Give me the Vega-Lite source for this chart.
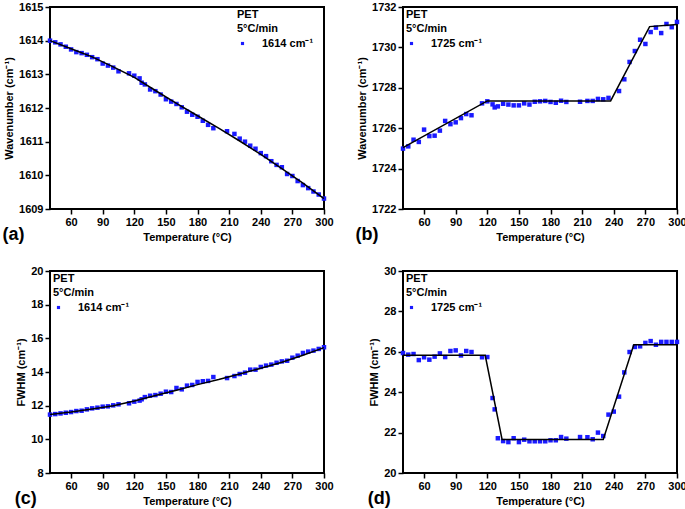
{
  "$schema": "https://vega.github.io/schema/vega-lite/v6.json",
  "padding": {"left": 1, "top": 0, "right": 0, "bottom": 0},
  "background": "white",
  "config": {
    "font": "Liberation Sans",
    "view": {"stroke": "black", "strokeWidth": 2},
    "axis": {
      "domain": false, "grid": false, "labelOverlap": false, "labelFlush": false, "labelBound": false,
      "tickColor": "black", "tickSize": 5, "tickWidth": 1.5,
      "labelFont": "Liberation Sans", "labelFontSize": 11, "labelFontWeight": "bold", "labelColor": "black", "labelPadding": 2,
      "titleFont": "Liberation Sans", "titleFontSize": 11, "titleFontWeight": "bold", "titleColor": "black"
    },
    "axisX": {"titlePadding": 4},
    "axisY": {"titlePadding": 4},
    "legend": {
      "orient": "none",
      "titleFont": "Liberation Sans", "titleFontSize": 11, "titleFontWeight": "bold", "titleColor": "black", "titleLineHeight": 14, "titlePadding": 4,
      "labelFont": "Liberation Sans", "labelFontSize": 11, "labelFontWeight": "bold", "labelColor": "black", "labelOffset": 14,
      "symbolType": "square", "symbolSize": 10, "symbolStrokeWidth": 0, "padding": 0, "rowPadding": 0
    },
    "title": {"font": "Liberation Sans", "fontSize": 18, "fontWeight": "bold", "color": "black"}
  },
  "resolve": {"scale": {"color": "independent", "x": "independent", "y": "independent"}, "legend": {"color": "independent"}},
  "datasets": {
    "ptsA": [
      {"T": 40, "v": 1614.0, "series": "1614 cm⁻¹"}, {"T": 45, "v": 1613.95, "series": "1614 cm⁻¹"}, {"T": 50, "v": 1613.89, "series": "1614 cm⁻¹"},
      {"T": 55, "v": 1613.82, "series": "1614 cm⁻¹"}, {"T": 60, "v": 1613.74, "series": "1614 cm⁻¹"}, {"T": 65, "v": 1613.66, "series": "1614 cm⁻¹"},
      {"T": 70, "v": 1613.63, "series": "1614 cm⁻¹"}, {"T": 75, "v": 1613.58, "series": "1614 cm⁻¹"}, {"T": 80, "v": 1613.51, "series": "1614 cm⁻¹"},
      {"T": 85, "v": 1613.45, "series": "1614 cm⁻¹"}, {"T": 90, "v": 1613.32, "series": "1614 cm⁻¹"}, {"T": 95, "v": 1613.26, "series": "1614 cm⁻¹"},
      {"T": 100, "v": 1613.2, "series": "1614 cm⁻¹"}, {"T": 105, "v": 1613.09, "series": "1614 cm⁻¹"}, {"T": 115, "v": 1613.03, "series": "1614 cm⁻¹"},
      {"T": 120, "v": 1612.96, "series": "1614 cm⁻¹"}, {"T": 125, "v": 1612.88, "series": "1614 cm⁻¹"}, {"T": 127, "v": 1612.75, "series": "1614 cm⁻¹"},
      {"T": 130, "v": 1612.7, "series": "1614 cm⁻¹"}, {"T": 135, "v": 1612.55, "series": "1614 cm⁻¹"}, {"T": 140, "v": 1612.5, "series": "1614 cm⁻¹"},
      {"T": 145, "v": 1612.4, "series": "1614 cm⁻¹"}, {"T": 150, "v": 1612.26, "series": "1614 cm⁻¹"}, {"T": 155, "v": 1612.19, "series": "1614 cm⁻¹"},
      {"T": 160, "v": 1612.12, "series": "1614 cm⁻¹"}, {"T": 165, "v": 1612.02, "series": "1614 cm⁻¹"}, {"T": 170, "v": 1611.89, "series": "1614 cm⁻¹"},
      {"T": 175, "v": 1611.8, "series": "1614 cm⁻¹"}, {"T": 180, "v": 1611.74, "series": "1614 cm⁻¹"}, {"T": 185, "v": 1611.62, "series": "1614 cm⁻¹"},
      {"T": 190, "v": 1611.5, "series": "1614 cm⁻¹"}, {"T": 195, "v": 1611.4, "series": "1614 cm⁻¹"}, {"T": 208, "v": 1611.31, "series": "1614 cm⁻¹"},
      {"T": 215, "v": 1611.23, "series": "1614 cm⁻¹"}, {"T": 220, "v": 1611.09, "series": "1614 cm⁻¹"}, {"T": 225, "v": 1611.0, "series": "1614 cm⁻¹"},
      {"T": 230, "v": 1610.88, "series": "1614 cm⁻¹"}, {"T": 235, "v": 1610.79, "series": "1614 cm⁻¹"}, {"T": 240, "v": 1610.66, "series": "1614 cm⁻¹"},
      {"T": 245, "v": 1610.57, "series": "1614 cm⁻¹"}, {"T": 250, "v": 1610.42, "series": "1614 cm⁻¹"}, {"T": 255, "v": 1610.31, "series": "1614 cm⁻¹"},
      {"T": 260, "v": 1610.24, "series": "1614 cm⁻¹"}, {"T": 265, "v": 1610.04, "series": "1614 cm⁻¹"}, {"T": 270, "v": 1609.98, "series": "1614 cm⁻¹"},
      {"T": 275, "v": 1609.83, "series": "1614 cm⁻¹"}, {"T": 280, "v": 1609.71, "series": "1614 cm⁻¹"}, {"T": 285, "v": 1609.62, "series": "1614 cm⁻¹"},
      {"T": 290, "v": 1609.52, "series": "1614 cm⁻¹"}, {"T": 295, "v": 1609.43, "series": "1614 cm⁻¹"}, {"T": 300, "v": 1609.31, "series": "1614 cm⁻¹"}
    ],
    "fitA": [
      {"T": 40, "v": 1614.0}, {"T": 60, "v": 1613.76}, {"T": 80, "v": 1613.52}, {"T": 100, "v": 1613.22}, {"T": 120, "v": 1612.91},
      {"T": 140, "v": 1612.52}, {"T": 160, "v": 1612.14}, {"T": 180, "v": 1611.77}, {"T": 200, "v": 1611.4}, {"T": 220, "v": 1611.02},
      {"T": 240, "v": 1610.62}, {"T": 260, "v": 1610.2}, {"T": 280, "v": 1609.77}, {"T": 300, "v": 1609.31}
    ],
    "ptsB": [
      {"T": 40, "v": 1724.99, "series": "1725 cm⁻¹"}, {"T": 45, "v": 1725.1, "series": "1725 cm⁻¹"}, {"T": 50, "v": 1725.43, "series": "1725 cm⁻¹"},
      {"T": 55, "v": 1725.32, "series": "1725 cm⁻¹"}, {"T": 60, "v": 1725.93, "series": "1725 cm⁻¹"}, {"T": 65, "v": 1725.61, "series": "1725 cm⁻¹"},
      {"T": 70, "v": 1725.63, "series": "1725 cm⁻¹"}, {"T": 75, "v": 1725.88, "series": "1725 cm⁻¹"}, {"T": 80, "v": 1726.36, "series": "1725 cm⁻¹"},
      {"T": 85, "v": 1726.2, "series": "1725 cm⁻¹"}, {"T": 90, "v": 1726.29, "series": "1725 cm⁻¹"}, {"T": 95, "v": 1726.5, "series": "1725 cm⁻¹"},
      {"T": 100, "v": 1726.7, "series": "1725 cm⁻¹"}, {"T": 105, "v": 1726.64, "series": "1725 cm⁻¹"}, {"T": 115, "v": 1727.23, "series": "1725 cm⁻¹"},
      {"T": 120, "v": 1727.33, "series": "1725 cm⁻¹"}, {"T": 125, "v": 1727.18, "series": "1725 cm⁻¹"}, {"T": 127, "v": 1727.03, "series": "1725 cm⁻¹"},
      {"T": 130, "v": 1727.08, "series": "1725 cm⁻¹"}, {"T": 135, "v": 1727.21, "series": "1725 cm⁻¹"}, {"T": 140, "v": 1727.17, "series": "1725 cm⁻¹"},
      {"T": 145, "v": 1727.13, "series": "1725 cm⁻¹"}, {"T": 150, "v": 1727.13, "series": "1725 cm⁻¹"}, {"T": 155, "v": 1727.23, "series": "1725 cm⁻¹"},
      {"T": 160, "v": 1727.17, "series": "1725 cm⁻¹"}, {"T": 165, "v": 1727.31, "series": "1725 cm⁻¹"}, {"T": 170, "v": 1727.33, "series": "1725 cm⁻¹"},
      {"T": 175, "v": 1727.35, "series": "1725 cm⁻¹"}, {"T": 180, "v": 1727.3, "series": "1725 cm⁻¹"}, {"T": 185, "v": 1727.26, "series": "1725 cm⁻¹"},
      {"T": 190, "v": 1727.36, "series": "1725 cm⁻¹"}, {"T": 195, "v": 1727.3, "series": "1725 cm⁻¹"}, {"T": 208, "v": 1727.31, "series": "1725 cm⁻¹"},
      {"T": 215, "v": 1727.35, "series": "1725 cm⁻¹"}, {"T": 220, "v": 1727.35, "series": "1725 cm⁻¹"}, {"T": 225, "v": 1727.45, "series": "1725 cm⁻¹"},
      {"T": 230, "v": 1727.43, "series": "1725 cm⁻¹"}, {"T": 235, "v": 1727.5, "series": "1725 cm⁻¹"}, {"T": 245, "v": 1727.84, "series": "1725 cm⁻¹"},
      {"T": 250, "v": 1728.42, "series": "1725 cm⁻¹"}, {"T": 255, "v": 1729.28, "series": "1725 cm⁻¹"}, {"T": 260, "v": 1729.82, "series": "1725 cm⁻¹"},
      {"T": 265, "v": 1730.38, "series": "1725 cm⁻¹"}, {"T": 270, "v": 1730.17, "series": "1725 cm⁻¹"}, {"T": 275, "v": 1730.76, "series": "1725 cm⁻¹"},
      {"T": 280, "v": 1730.98, "series": "1725 cm⁻¹"}, {"T": 285, "v": 1730.71, "series": "1725 cm⁻¹"}, {"T": 290, "v": 1731.16, "series": "1725 cm⁻¹"},
      {"T": 295, "v": 1731.0, "series": "1725 cm⁻¹"}, {"T": 300, "v": 1731.26, "series": "1725 cm⁻¹"}
    ],
    "fitB": [
      {"T": 40, "v": 1725.04}, {"T": 120, "v": 1727.35}, {"T": 237, "v": 1727.35}, {"T": 274, "v": 1731.03}, {"T": 300, "v": 1731.13}
    ],
    "ptsC": [
      {"T": 40, "v": 11.47, "series": "1614 cm⁻¹"}, {"T": 45, "v": 11.5, "series": "1614 cm⁻¹"}, {"T": 50, "v": 11.54, "series": "1614 cm⁻¹"},
      {"T": 55, "v": 11.58, "series": "1614 cm⁻¹"}, {"T": 60, "v": 11.62, "series": "1614 cm⁻¹"}, {"T": 65, "v": 11.68, "series": "1614 cm⁻¹"},
      {"T": 70, "v": 11.7, "series": "1614 cm⁻¹"}, {"T": 75, "v": 11.78, "series": "1614 cm⁻¹"}, {"T": 80, "v": 11.84, "series": "1614 cm⁻¹"},
      {"T": 85, "v": 11.88, "series": "1614 cm⁻¹"}, {"T": 90, "v": 11.94, "series": "1614 cm⁻¹"}, {"T": 95, "v": 11.96, "series": "1614 cm⁻¹"},
      {"T": 100, "v": 12.02, "series": "1614 cm⁻¹"}, {"T": 105, "v": 12.08, "series": "1614 cm⁻¹"}, {"T": 115, "v": 12.14, "series": "1614 cm⁻¹"},
      {"T": 120, "v": 12.24, "series": "1614 cm⁻¹"}, {"T": 125, "v": 12.3, "series": "1614 cm⁻¹"}, {"T": 127, "v": 12.38, "series": "1614 cm⁻¹"},
      {"T": 130, "v": 12.51, "series": "1614 cm⁻¹"}, {"T": 135, "v": 12.59, "series": "1614 cm⁻¹"}, {"T": 140, "v": 12.63, "series": "1614 cm⁻¹"},
      {"T": 145, "v": 12.71, "series": "1614 cm⁻¹"}, {"T": 150, "v": 12.83, "series": "1614 cm⁻¹"}, {"T": 155, "v": 12.81, "series": "1614 cm⁻¹"},
      {"T": 160, "v": 13.05, "series": "1614 cm⁻¹"}, {"T": 165, "v": 12.97, "series": "1614 cm⁻¹"}, {"T": 170, "v": 13.19, "series": "1614 cm⁻¹"},
      {"T": 175, "v": 13.23, "series": "1614 cm⁻¹"}, {"T": 180, "v": 13.41, "series": "1614 cm⁻¹"}, {"T": 185, "v": 13.45, "series": "1614 cm⁻¹"},
      {"T": 190, "v": 13.47, "series": "1614 cm⁻¹"}, {"T": 195, "v": 13.7, "series": "1614 cm⁻¹"}, {"T": 208, "v": 13.64, "series": "1614 cm⁻¹"},
      {"T": 215, "v": 13.76, "series": "1614 cm⁻¹"}, {"T": 220, "v": 13.88, "series": "1614 cm⁻¹"}, {"T": 225, "v": 13.96, "series": "1614 cm⁻¹"},
      {"T": 230, "v": 14.14, "series": "1614 cm⁻¹"}, {"T": 235, "v": 14.14, "series": "1614 cm⁻¹"}, {"T": 240, "v": 14.3, "series": "1614 cm⁻¹"},
      {"T": 245, "v": 14.38, "series": "1614 cm⁻¹"}, {"T": 250, "v": 14.44, "series": "1614 cm⁻¹"}, {"T": 255, "v": 14.55, "series": "1614 cm⁻¹"},
      {"T": 260, "v": 14.63, "series": "1614 cm⁻¹"}, {"T": 265, "v": 14.67, "series": "1614 cm⁻¹"}, {"T": 270, "v": 14.85, "series": "1614 cm⁻¹"},
      {"T": 275, "v": 14.97, "series": "1614 cm⁻¹"}, {"T": 280, "v": 15.13, "series": "1614 cm⁻¹"}, {"T": 285, "v": 15.21, "series": "1614 cm⁻¹"},
      {"T": 290, "v": 15.27, "series": "1614 cm⁻¹"}, {"T": 295, "v": 15.37, "series": "1614 cm⁻¹"}, {"T": 300, "v": 15.47, "series": "1614 cm⁻¹"}
    ],
    "fitC": [
      {"T": 40, "v": 11.47}, {"T": 60, "v": 11.62}, {"T": 80, "v": 11.8}, {"T": 100, "v": 12.0}, {"T": 120, "v": 12.28},
      {"T": 140, "v": 12.6}, {"T": 160, "v": 12.92}, {"T": 180, "v": 13.25}, {"T": 200, "v": 13.55}, {"T": 220, "v": 13.88},
      {"T": 240, "v": 14.22}, {"T": 260, "v": 14.58}, {"T": 280, "v": 15.0}, {"T": 300, "v": 15.45}
    ],
    "ptsD": [
      {"T": 40, "v": 25.94, "series": "1725 cm⁻¹"}, {"T": 45, "v": 25.86, "series": "1725 cm⁻¹"}, {"T": 50, "v": 25.89, "series": "1725 cm⁻¹"},
      {"T": 55, "v": 25.59, "series": "1725 cm⁻¹"}, {"T": 60, "v": 25.73, "series": "1725 cm⁻¹"}, {"T": 65, "v": 25.61, "series": "1725 cm⁻¹"},
      {"T": 70, "v": 25.76, "series": "1725 cm⁻¹"}, {"T": 75, "v": 25.92, "series": "1725 cm⁻¹"}, {"T": 80, "v": 25.74, "series": "1725 cm⁻¹"},
      {"T": 85, "v": 26.04, "series": "1725 cm⁻¹"}, {"T": 90, "v": 26.07, "series": "1725 cm⁻¹"}, {"T": 95, "v": 25.82, "series": "1725 cm⁻¹"},
      {"T": 100, "v": 26.04, "series": "1725 cm⁻¹"}, {"T": 105, "v": 25.99, "series": "1725 cm⁻¹"}, {"T": 115, "v": 25.73, "series": "1725 cm⁻¹"},
      {"T": 120, "v": 25.74, "series": "1725 cm⁻¹"}, {"T": 125, "v": 23.71, "series": "1725 cm⁻¹"}, {"T": 127, "v": 23.15, "series": "1725 cm⁻¹"},
      {"T": 130, "v": 21.72, "series": "1725 cm⁻¹"}, {"T": 135, "v": 21.58, "series": "1725 cm⁻¹"}, {"T": 140, "v": 21.53, "series": "1725 cm⁻¹"},
      {"T": 145, "v": 21.72, "series": "1725 cm⁻¹"}, {"T": 150, "v": 21.53, "series": "1725 cm⁻¹"}, {"T": 155, "v": 21.65, "series": "1725 cm⁻¹"},
      {"T": 160, "v": 21.57, "series": "1725 cm⁻¹"}, {"T": 165, "v": 21.57, "series": "1725 cm⁻¹"}, {"T": 170, "v": 21.57, "series": "1725 cm⁻¹"},
      {"T": 175, "v": 21.57, "series": "1725 cm⁻¹"}, {"T": 180, "v": 21.62, "series": "1725 cm⁻¹"}, {"T": 185, "v": 21.62, "series": "1725 cm⁻¹"},
      {"T": 190, "v": 21.78, "series": "1725 cm⁻¹"}, {"T": 195, "v": 21.7, "series": "1725 cm⁻¹"}, {"T": 208, "v": 21.78, "series": "1725 cm⁻¹"},
      {"T": 215, "v": 21.77, "series": "1725 cm⁻¹"}, {"T": 220, "v": 21.67, "series": "1725 cm⁻¹"}, {"T": 225, "v": 22.0, "series": "1725 cm⁻¹"},
      {"T": 230, "v": 21.83, "series": "1725 cm⁻¹"}, {"T": 235, "v": 22.89, "series": "1725 cm⁻¹"}, {"T": 240, "v": 23.04, "series": "1725 cm⁻¹"},
      {"T": 245, "v": 23.78, "series": "1725 cm⁻¹"}, {"T": 250, "v": 24.98, "series": "1725 cm⁻¹"}, {"T": 255, "v": 25.99, "series": "1725 cm⁻¹"},
      {"T": 260, "v": 26.24, "series": "1725 cm⁻¹"}, {"T": 265, "v": 26.27, "series": "1725 cm⁻¹"}, {"T": 270, "v": 26.44, "series": "1725 cm⁻¹"},
      {"T": 275, "v": 26.53, "series": "1725 cm⁻¹"}, {"T": 280, "v": 26.35, "series": "1725 cm⁻¹"}, {"T": 285, "v": 26.49, "series": "1725 cm⁻¹"},
      {"T": 290, "v": 26.49, "series": "1725 cm⁻¹"}, {"T": 295, "v": 26.49, "series": "1725 cm⁻¹"}, {"T": 300, "v": 26.49, "series": "1725 cm⁻¹"}
    ],
    "fitD": [
      {"T": 40, "v": 25.83}, {"T": 118, "v": 25.83}, {"T": 134, "v": 21.66}, {"T": 230, "v": 21.66}, {"T": 259, "v": 26.35}, {"T": 300, "v": 26.35}
    ]
  },
  "columns": 2,
  "spacing": {"row": 62, "column": 79},
  "bounds": "flush",
  "concat": [
    {
      "width": 274, "height": 202,
      "title": {"text": "(a)", "orient": "bottom", "anchor": "start", "frame": "bounds", "offset": -16, "dx": -1},
      "encoding": {
        "x": {"field": "T", "type": "quantitative", "scale": {"domain": [40, 300], "nice": false, "zero": false}, "axis": {"values": [60, 90, 120, 150, 180, 210, 240, 270, 300], "labelOverlap": false, "format": "d", "title": "Temperature (°C)"}},
        "y": {"field": "v", "type": "quantitative", "scale": {"domain": [1609, 1615], "nice": false, "zero": false}, "axis": {"values": [1609, 1610, 1611, 1612, 1613, 1614, 1615], "labelOverlap": false, "format": "d", "title": "Wavenumber (cm⁻¹)"}}
      },
      "layer": [
        {
          "data": {"name": "ptsA"},
          "mark": {"type": "square", "size": 20, "opacity": 1},
          "encoding": {
            "color": {"field": "series", "type": "nominal", "scale": {"range": ["#1a1aff"]}, "legend": {"title": ["PET", "5°C/min"], "legendX": 187, "legendY": 2}}
          }
        },
        {
          "data": {"name": "fitA"},
          "mark": {"type": "line", "color": "black", "strokeWidth": 1.5},
          "encoding": {}
        }
      ]
    },
    {
      "width": 274, "height": 202,
      "title": {"text": "(b)", "orient": "bottom", "anchor": "start", "frame": "bounds", "offset": -16, "dx": -1},
      "encoding": {
        "x": {"field": "T", "type": "quantitative", "scale": {"domain": [40, 300], "nice": false, "zero": false}, "axis": {"values": [60, 90, 120, 150, 180, 210, 240, 270, 300], "labelOverlap": false, "format": "d", "title": "Temperature (°C)"}},
        "y": {"field": "v", "type": "quantitative", "scale": {"domain": [1722, 1732], "nice": false, "zero": false}, "axis": {"values": [1722, 1724, 1726, 1728, 1730, 1732], "labelOverlap": false, "format": "d", "title": "Wavenumber (cm⁻¹)"}}
      },
      "layer": [
        {
          "data": {"name": "ptsB"},
          "mark": {"type": "square", "size": 20, "opacity": 1},
          "encoding": {
            "color": {"field": "series", "type": "nominal", "scale": {"range": ["#1a1aff"]}, "legend": {"title": ["PET", "5°C/min"], "legendX": 3, "legendY": 2}}
          }
        },
        {
          "data": {"name": "fitB"},
          "mark": {"type": "line", "color": "black", "strokeWidth": 1.5},
          "encoding": {}
        }
      ]
    },
    {
      "width": 274, "height": 202,
      "title": {"text": "(c)", "orient": "bottom", "anchor": "start", "frame": "bounds", "offset": -16, "dx": -1},
      "encoding": {
        "x": {"field": "T", "type": "quantitative", "scale": {"domain": [40, 300], "nice": false, "zero": false}, "axis": {"values": [60, 90, 120, 150, 180, 210, 240, 270, 300], "labelOverlap": false, "format": "d", "title": "Temperature (°C)"}},
        "y": {"field": "v", "type": "quantitative", "scale": {"domain": [8, 20], "nice": false, "zero": false}, "axis": {"values": [8, 10, 12, 14, 16, 18, 20], "labelOverlap": false, "format": "d", "title": "FWHM (cm⁻¹)"}}
      },
      "layer": [
        {
          "data": {"name": "ptsC"},
          "mark": {"type": "square", "size": 20, "opacity": 1},
          "encoding": {
            "color": {"field": "series", "type": "nominal", "scale": {"range": ["#1a1aff"]}, "legend": {"title": ["PET", "5°C/min"], "legendX": 3, "legendY": 2}}
          }
        },
        {
          "data": {"name": "fitC"},
          "mark": {"type": "line", "color": "black", "strokeWidth": 1.5},
          "encoding": {}
        }
      ]
    },
    {
      "width": 274, "height": 202,
      "title": {"text": "(d)", "orient": "bottom", "anchor": "start", "frame": "bounds", "offset": -16, "dx": -1},
      "encoding": {
        "x": {"field": "T", "type": "quantitative", "scale": {"domain": [40, 300], "nice": false, "zero": false}, "axis": {"values": [60, 90, 120, 150, 180, 210, 240, 270, 300], "labelOverlap": false, "format": "d", "title": "Temperature (°C)"}},
        "y": {"field": "v", "type": "quantitative", "scale": {"domain": [20, 30], "nice": false, "zero": false}, "axis": {"values": [20, 22, 24, 26, 28, 30], "labelOverlap": false, "format": "d", "title": "FWHM (cm⁻¹)"}}
      },
      "layer": [
        {
          "data": {"name": "ptsD"},
          "mark": {"type": "square", "size": 20, "opacity": 1},
          "encoding": {
            "color": {"field": "series", "type": "nominal", "scale": {"range": ["#1a1aff"]}, "legend": {"title": ["PET", "5°C/min"], "legendX": 3, "legendY": 2}}
          }
        },
        {
          "data": {"name": "fitD"},
          "mark": {"type": "line", "color": "black", "strokeWidth": 1.5},
          "encoding": {}
        }
      ]
    }
  ]
}
